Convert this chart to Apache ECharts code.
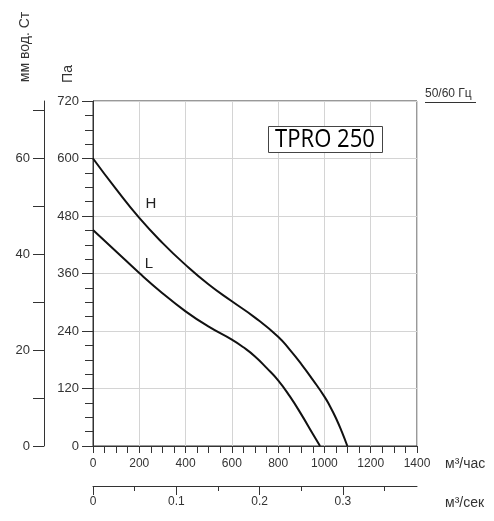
<!DOCTYPE html>
<html>
<head>
<meta charset="utf-8">
<script src="https://cdn.jsdelivr.net/npm/echarts@6/dist/echarts.min.js"></script>
<style>
  html, body { margin: 0; padding: 0; background: #fff; }
  #chart { width: 494px; height: 521px; }
</style>
</head>
<body>
<div id="chart"></div>
<script>
  // кривая H
  const flowH = [0, 100, 200, 300, 400, 500, 600, 700, 800, 850, 900, 950, 1000, 1025, 1050, 1075, 1099];
  const pressH = [600, 536, 476, 424, 378, 337, 302, 268, 228, 201, 171, 138, 103, 82, 58, 30, 0];
  // кривая L
  const flowL = [0, 100, 200, 300, 400, 500, 600, 650, 700, 750, 800, 850, 900, 950, 981];
  const pressL = [451, 406, 361, 319, 281, 249, 222, 206, 187, 163, 137, 104, 66, 25, 0];

  // шкалы
  const mmTicks = [0, 10, 20, 30, 40, 50, 60, 70];
  const mmLabels = [0, 20, 40, 60];
  const secTicks = [0, 0.1, 0.2, 0.3];
  const secMinorTicks = [0.05, 0.15, 0.25, 0.35];

  const font = 'Liberation Sans';
  const axisColor = '#333';
  const gridColor = '#d4d4d4';

  const myChart = echarts.init(document.getElementById('chart'));

  const option = {
    animation: false,
    textStyle: { fontFamily: font },
    grid: {
      left: 93,
      right: 77,
      top: 101,
      bottom: 75,
      show: true,
      borderColor: axisColor,
      borderWidth: 1
    },
    xAxis: [
      {
        type: 'value',
        position: 'bottom',
        min: 0,
        max: 1400,
        interval: 200,
        name: 'м³/час',
        nameLocation: 'end',
        nameGap: 28,
        nameTextStyle: { color: axisColor, fontSize: 14, verticalAlign: 'top', padding: [11, 0, 0, 0] },
        axisLine: { onZero: false, lineStyle: { color: axisColor } },
        axisTick: { length: 7, lineStyle: { color: axisColor } },
        minorTick: { show: true, splitNumber: 4, length: 7, lineStyle: { color: axisColor } },
        axisLabel: { color: axisColor, fontSize: 12, margin: 12, formatter: (v) => String(v) },
        splitLine: { show: true, lineStyle: { color: gridColor } }
      },
      {
        type: 'value',
        position: 'bottom',
        offset: 40,
        min: 0,
        max: 1400 / 3600,
        name: 'м³/сек',
        nameLocation: 'end',
        nameGap: 28,
        nameTextStyle: { color: axisColor, fontSize: 14, verticalAlign: 'top', padding: [10, 0, 0, 0] },
        axisLine: { show: true, onZero: false, lineStyle: { color: axisColor } },
        axisTick: { show: true, length: 9, customValues: secTicks, lineStyle: { color: axisColor } },
        axisLabel: { show: true, color: axisColor, fontSize: 12, margin: 10, customValues: secTicks },
        splitLine: { show: false }
      },
      {
        type: 'value',
        position: 'bottom',
        offset: 40,
        min: 0,
        max: 1400 / 3600,
        axisLine: { show: false, onZero: false },
        axisTick: { show: true, length: 5, customValues: secMinorTicks, lineStyle: { color: axisColor } },
        axisLabel: { show: false },
        splitLine: { show: false }
      }
    ],
    yAxis: [
      {
        type: 'value',
        position: 'left',
        min: 0,
        max: 720,
        interval: 120,
        axisLine: { show: true, onZero: false, lineStyle: { color: axisColor } },
        axisTick: { show: true, length: 11, lineStyle: { color: axisColor } },
        minorTick: { show: true, splitNumber: 4, length: 8, lineStyle: { color: axisColor } },
        axisLabel: { color: axisColor, fontSize: 13, margin: 14 },
        splitLine: { show: true, lineStyle: { color: gridColor } }
      },
      {
        type: 'value',
        position: 'left',
        offset: 49,
        min: 0,
        max: 72,
        axisLine: { show: true, onZero: false, lineStyle: { color: axisColor } },
        axisTick: { show: true, length: 11, customValues: mmTicks, lineStyle: { color: axisColor } },
        axisLabel: { show: true, color: axisColor, fontSize: 13, margin: 14, customValues: mmLabels },
        splitLine: { show: false }
      }
    ],
    series: [
      {
        name: 'H',
        type: 'line',
        data: flowH.map((q, i) => [q, pressH[i]]),
        smooth: 0.5,
        symbol: 'none',
        lineStyle: { color: '#111', width: 2 },
        markPoint: {
          symbol: 'circle',
          symbolSize: 1,
          itemStyle: { color: 'transparent' },
          label: { show: true, position: 'inside', formatter: 'H', color: '#222', fontSize: 15 },
          data: [{ coord: [250, 505] }]
        }
      },
      {
        name: 'L',
        type: 'line',
        data: flowL.map((q, i) => [q, pressL[i]]),
        smooth: 0.5,
        symbol: 'none',
        lineStyle: { color: '#111', width: 2 },
        markPoint: {
          symbol: 'circle',
          symbolSize: 1,
          itemStyle: { color: 'transparent' },
          label: { show: true, position: 'inside', formatter: 'L', color: '#222', fontSize: 15 },
          data: [{ coord: [242, 380] }]
        }
      }
    ],
    graphic: [
      {
        type: 'text',
        x: 25,
        y: 47,
        rotation: Math.PI / 2,
        style: { text: 'мм вод. Ст', font: '14px "Liberation Sans"', fill: axisColor, align: 'center', verticalAlign: 'middle' }
      },
      {
        type: 'text',
        x: 68,
        y: 74,
        rotation: Math.PI / 2,
        style: { text: 'Па', font: '14px "Liberation Sans"', fill: axisColor, align: 'center', verticalAlign: 'middle' }
      },
      {
        type: 'text',
        x: 425,
        y: 94,
        style: { text: '50/60 Гц', font: '12px "Liberation Sans"', fill: axisColor, align: 'left', verticalAlign: 'middle' }
      },
      {
        type: 'line',
        shape: { x1: 425, y1: 102.5, x2: 476, y2: 102.5 },
        style: { stroke: axisColor, lineWidth: 1 }
      },
      {
        type: 'rect',
        z: 10,
        shape: { x: 268.5, y: 126.5, width: 114, height: 26 },
        style: { fill: '#fff', stroke: '#444', lineWidth: 1 }
      },
      {
        type: 'text',
        z: 11,
        x: 325,
        y: 140,
        scaleX: 0.85,
        style: { text: 'TPRO 250', font: '26px "Open Sans"', fill: '#000', align: 'center', verticalAlign: 'middle' }
      }
    ]
  };

  myChart.setOption(option);
</script>
</body>
</html>
